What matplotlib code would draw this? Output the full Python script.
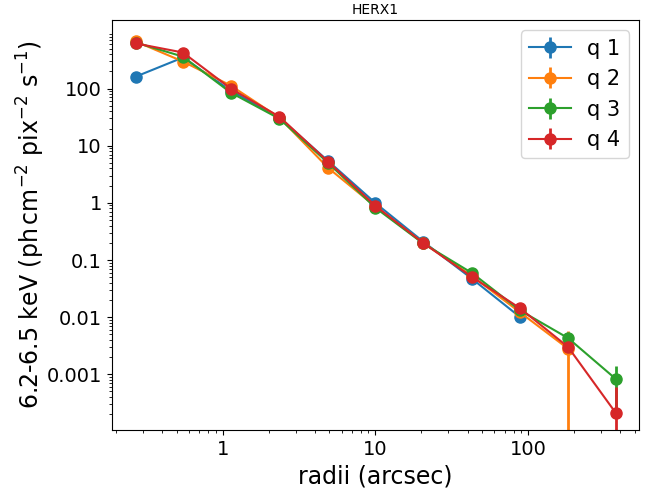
import numpy as np
import matplotlib
matplotlib.use("Agg")
import matplotlib.pyplot as plt
from matplotlib.ticker import FixedLocator, FixedFormatter

nan = np.nan

# radial bins (arcsec)
radii = [0.27, 0.55, 1.13, 2.35, 4.9, 10.0, 20.5, 43.0, 88.0, 182.0, 375.0]

# surface brightness per quadrant
q1 = [162, 350, 92, 31, 5.4, 0.99, 0.21, 0.0465, 0.0101, nan, nan]
q2 = [668, 298, 113, 31, 4.1, 0.86, 0.20, 0.052, 0.0122, 0.0028, nan]
q3 = [640, 363, 85, 29.8, 5.0, 0.82, 0.195, 0.0587, 0.0132, 0.0043, 8.2e-4]
q4 = [617, 428, 100, 32.3, 5.24, 0.885, 0.199, 0.050, 0.0144, 0.0030, 2.07e-4]

# uncertainties
e1 = [8, 12, 3, 1, 0.15, 0.03, 0.006, 0.002, 0.0008, nan, nan]
e2 = [15, 10, 3, 1, 0.15, 0.03, 0.006, 0.002, 0.0009, 0.0030, nan]
e3 = [15, 12, 3, 1, 0.15, 0.03, 0.006, 0.002, 0.0009, 0.0006, 5.6e-4]
e4 = [15, 12, 3, 1, 0.15, 0.03, 0.006, 0.002, 0.0009, 0.0006, 4.0e-4]

labels = ["q 1", "q 2", "q 3", "q 4"]
yticks = [0.001, 0.01, 0.1, 1, 10, 100]
ytick_labels = ["0.001", "0.01", "0.1", "1", "10", "100"]
xticks = [1, 10, 100]
xtick_labels = ["1", "10", "100"]

fig = plt.figure(figsize=(6.54, 4.88), dpi=100)
ax = fig.add_axes([0.1708, 0.1189, 0.8067, 0.8402])

for y, e, lab in zip([q1, q2, q3, q4], [e1, e2, e3, e4], labels):
  ax.errorbar(radii, y, yerr=e, fmt="o-", markersize=8, linewidth=1.5,
              elinewidth=2, label=lab)

ax.set_xscale("log")
ax.set_yscale("log")
ax.set_ylim(1.06e-4, 1590)
ax.set_xlim(0.188, 532)

ax.yaxis.set_major_locator(FixedLocator(yticks))
ax.yaxis.set_major_formatter(FixedFormatter(ytick_labels))
ax.xaxis.set_major_locator(FixedLocator(xticks))
ax.xaxis.set_major_formatter(FixedFormatter(xtick_labels))
ax.tick_params(axis="both", which="major", labelsize=14)

ax.set_xlabel("radii (arcsec)", fontsize=17)
ax.set_ylabel(r"6.2-6.5 keV (ph$\,$cm$^{-2}$ pix$^{-2}$ s$^{-1}$)", fontsize=17,
              labelpad=0)
ax.set_title("HERX1", fontsize=10, pad=4)
ax.legend(loc="upper right", fontsize=15)

fig.savefig("out.png", dpi=100)
